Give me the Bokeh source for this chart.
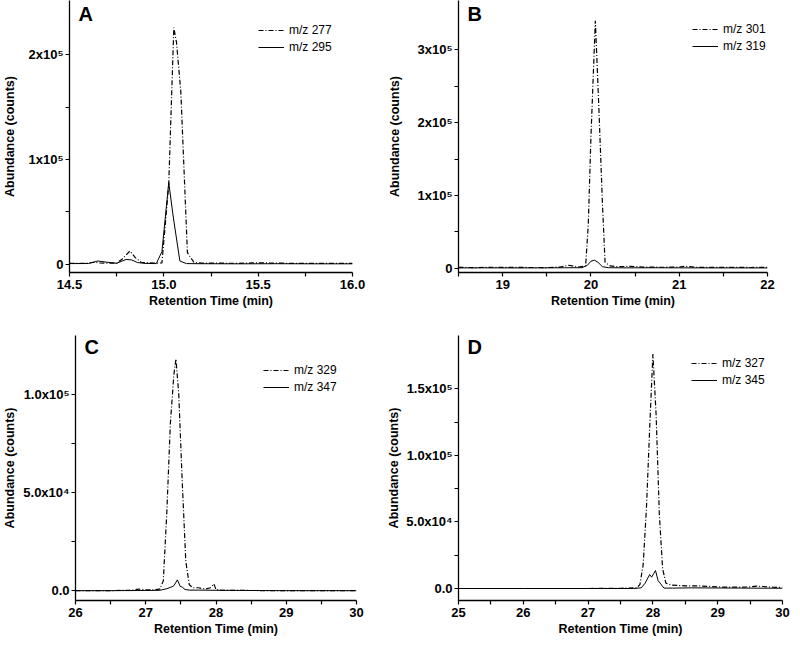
from bokeh.plotting import figure
from bokeh.layouts import column, row
from bokeh.models import FixedTicker, Legend, LegendItem, Label, Range1d
from bokeh.embed import file_html
from bokeh.resources import INLINE

# ---------------- data ----------------
# Panel A
a_t_277 = [14.50, 14.55, 14.60, 14.63, 14.66, 14.70, 14.75, 14.78, 14.82, 14.85, 14.88, 14.92, 14.96, 14.99,
           15.026, 15.053, 15.067, 15.09, 15.125, 15.16, 15.20, 15.30, 15.40, 15.50, 15.60, 15.70, 15.80, 15.90, 16.00]
a_y_277 = [800, 700, 900, 1800, 1200, 900, 900, 5000, 12500, 6000, 1800, 1200, 900, 1200,
           76000, 226000, 212000, 165000, 11000, 1500, 1000, 900, 800, 1200, 1000, 700, 800, 700, 700]
a_t_295 = [14.50, 14.60, 14.65, 14.70, 14.75, 14.80, 14.83, 14.86, 14.90, 14.96, 14.99, 15.026, 15.05,
           15.085, 15.12, 15.20, 15.40, 15.60, 15.80, 16.00]
a_y_295 = [500, 600, 3000, 1800, 800, 4500, 4000, 1500, 700, 500, 12000, 78000, 45000,
           3000, 500, 400, 300, 400, 300, 300]

# Panel B
b_t_301 = [18.50, 18.70, 18.90, 19.10, 19.30, 19.50, 19.65, 19.75, 19.85, 19.94, 19.97, 20.00, 20.05,
           20.09, 20.13, 20.16, 20.22, 20.30, 20.45, 20.60, 20.80, 21.00, 21.06, 21.20, 21.50, 21.80, 22.00]
b_y_301 = [1000, 800, 1200, 1000, 900, 800, 1500, 4000, 1500, 3000, 60000, 180000, 340000,
           220000, 90000, 8000, 3000, 2000, 2500, 1500, 1200, 1500, 2500, 1200, 1000, 900, 1000]
b_t_319 = [18.5, 18.8, 19.1, 19.4, 19.7, 19.9, 19.96, 20.0, 20.04, 20.08, 20.13, 20.2, 20.4, 20.7, 21.0, 21.5, 22.0]
b_y_319 = [300, 400, 300, 300, 500, 600, 4000, 9500, 11000, 8000, 2000, 600, 400, 500, 400, 300, 300]

# Panel C
c_t_329 = [26.0, 26.4, 26.8, 26.9, 27.0, 27.1, 27.2, 27.25, 27.30, 27.35, 27.40, 27.43, 27.47, 27.52,
           27.57, 27.62, 27.67, 27.75, 27.85, 27.92, 27.97, 28.0, 28.1, 28.5, 29.0, 29.5, 30.0]
c_y_329 = [0, 0, 200, 800, 500, 400, 800, 5000, 40000, 85000, 110000, 118000, 100000, 55000,
           15000, 3000, 1500, 1500, 800, 1500, 3500, 500, 200, 100, 0, 0, 0]
c_t_347 = [26.0, 26.5, 27.0, 27.2, 27.3, 27.36, 27.40, 27.45, 27.49, 27.52, 27.56, 27.62, 27.75, 28.0, 28.5, 29.0, 30.0]
c_y_347 = [0, 0, 100, 200, 1000, 1800, 2500, 5500, 2200, 1800, 600, 300, 300, 200, 100, 0, 0]

# Panel D
d_t_327 = [25.0, 25.5, 26.0, 26.5, 27.0, 27.5, 27.75, 27.80, 27.85, 27.90, 27.95, 28.00, 28.05, 28.10,
           28.15, 28.20, 28.30, 28.50, 28.70, 28.90, 29.10, 29.30, 29.50, 29.60, 29.70, 29.85, 30.0]
d_y_327 = [0, 0, 0, 0, 0, 200, 500, 3000, 18000, 60000, 120000, 176000, 130000, 55000,
           15000, 4000, 2500, 2000, 2000, 1500, 1000, 1000, 1200, 1800, 1500, 1000, 800]
d_t_345 = [25.0, 26.0, 27.0, 27.7, 27.82, 27.88, 27.95, 27.98, 28.01, 28.04, 28.08, 28.12, 28.17,
           28.3, 28.6, 29.0, 29.5, 30.0]
d_y_345 = [0, 0, 0, 0, 500, 4000, 10500, 8500, 11000, 13500, 6000, 3500, 300, 300, 500, 400, 300, 200]

# ticks / labels
a_xticks = [14.5, 15.0, 15.5, 16.0]
a_xlabels = ["14.5", "15.0", "15.5", "16.0"]
a_yticks = [0, 100000, 200000]
a_ylabels = ["0", "1x10\u2075", "2x10\u2075"]

b_xticks = [19, 20, 21, 22]
b_xlabels = ["19", "20", "21", "22"]
b_yticks = [0, 100000, 200000, 300000]
b_ylabels = ["0", "1x10\u2075", "2x10\u2075", "3x10\u2075"]

c_xticks = [26, 27, 28, 29, 30]
c_xlabels = ["26", "27", "28", "29", "30"]
c_yticks = [0, 50000, 100000]
c_ylabels = ["0.0", "5.0x10\u2074", "1.0x10\u2075"]

d_xticks = [25, 26, 27, 28, 29, 30]
d_xlabels = ["25", "26", "27", "28", "29", "30"]
d_yticks = [0, 50000, 100000, 150000]
d_ylabels = ["0.0", "5.0x10\u2074", "1.0x10\u2075", "1.5x10\u2075"]

FONT = "Liberation Sans"
DASHDOT = "5 2 1 2"


def minor_between(ticks):
    out = []
    for a, b in zip(ticks[:-1], ticks[1:]):
        out.append((a + b) / 2.0)
    return out


def panel(letter, xr, yr, t1, y1, lab1, t2, y2, lab2, xticks, xlabels, yticks, ylabels,
          bl, fw, br, bt, fh, bb, leg_x, leg_top, ystand, letter_top, x_minor_extra=None):
    p = figure(frame_width=fw, frame_height=fh, min_border_left=bl, min_border_right=br,
               min_border_top=bt, min_border_bottom=bb,
               x_range=Range1d(*xr), y_range=Range1d(*yr),
               output_backend="svg", toolbar_location=None, tools="")
    p.outline_line_color = None
    p.grid.visible = False
    p.background_fill_color = "white"
    p.border_fill_color = "white"

    r1 = p.line(t1, y1, line_color="black", line_width=1.2, line_dash=DASHDOT)
    r2 = p.line(t2, y2, line_color="black", line_width=1.0)

    xminor = minor_between(xticks)
    if x_minor_extra:
        xminor = x_minor_extra + xminor
    p.xaxis.ticker = FixedTicker(ticks=xticks, minor_ticks=xminor)
    p.yaxis.ticker = FixedTicker(ticks=yticks, minor_ticks=minor_between(yticks))
    p.xaxis.major_label_overrides = {float(k): v for k, v in zip(xticks, xlabels)}
    p.yaxis.major_label_overrides = {float(k): v for k, v in zip(yticks, ylabels)}
    for ax in (p.xaxis[0], p.yaxis[0]):
        ax.axis_line_color = "black"
        ax.axis_line_width = 1.3
        ax.major_tick_line_color = "black"
        ax.minor_tick_line_color = "black"
        ax.major_tick_line_width = 1.2
        ax.minor_tick_line_width = 1.2
        ax.major_tick_in = 0
        ax.major_tick_out = 4
        ax.minor_tick_in = 0
        ax.minor_tick_out = 4
        ax.major_label_text_font = FONT
        ax.major_label_text_font_style = "bold"
        ax.major_label_text_font_size = "13px"
        ax.major_label_text_color = "black"
        ax.axis_label_text_font = FONT
        ax.axis_label_text_font_style = "bold"
        ax.axis_label_text_font_size = "12.5px"
        ax.axis_label_text_color = "black"
    p.xaxis.axis_label = "Retention Time (min)"
    p.yaxis.axis_label = "Abundance (counts)"
    p.xaxis.major_label_standoff = 3
    p.yaxis.major_label_standoff = 2
    p.xaxis.axis_label_standoff = 2
    p.yaxis.axis_label_standoff = ystand

    legend = Legend(items=[LegendItem(label=lab1, renderers=[r1]),
                           LegendItem(label=lab2, renderers=[r2])],
                    location=(leg_x, fh - leg_top - 31),
                    padding=0, spacing=3, margin=0,
                    glyph_width=26, glyph_height=14, label_height=14, label_standoff=5,
                    label_text_font=FONT, label_text_font_size="12px", label_text_color="black",
                    border_line_color=None, background_fill_alpha=0.0)
    p.add_layout(legend, "center")

    p.add_layout(Label(x=9, y=fh - letter_top, x_units="screen", y_units="screen", text=letter,
                       text_font=FONT, text_font_style="bold", text_font_size="20px",
                       text_baseline="top", text_color="black"))
    return p


pA = panel("A", (14.5, 16.0), (-8000, 252000), a_t_277, a_y_277, "m/z 277", a_t_295, a_y_295, "m/z 295",
           a_xticks, a_xlabels, a_yticks, a_ylabels,
           bl=61, fw=283, br=15, bt=0, fh=272, bb=63, leg_x=189, leg_top=23, ystand=8, letter_top=2)
pB = panel("B", (18.5, 22.0), (-6000, 368000), b_t_301, b_y_301, "m/z 301", b_t_319, b_y_319, "m/z 319",
           b_xticks, b_xlabels, b_yticks, b_ylabels,
           bl=91, fw=309, br=25, bt=0, fh=272, bb=63, leg_x=234, leg_top=22, ystand=12, letter_top=2,
           x_minor_extra=[18.5])
pC = panel("C", (26.0, 30.0), (-5000, 130000), c_t_329, c_y_329, "m/z 329", c_t_347, c_y_347, "m/z 347",
           c_xticks, c_xlabels, c_yticks, c_ylabels,
           bl=68, fw=281, br=15, bt=0, fh=265, bb=38, leg_x=188, leg_top=28, ystand=3, letter_top=0)
pD = panel("D", (25.0, 30.0), (-9000, 190000), d_t_327, d_y_327, "m/z 327", d_t_345, d_y_345, "m/z 345",
           d_xticks, d_xlabels, d_yticks, d_ylabels,
           bl=87, fw=324, br=9, bt=0, fh=265, bb=38, leg_x=233, leg_top=21, ystand=2, letter_top=0)

layout = column(row(pA, pB, spacing=0), row(pC, pD, spacing=0), spacing=0)

open("out.html", "w").write(file_html(layout, INLINE))
